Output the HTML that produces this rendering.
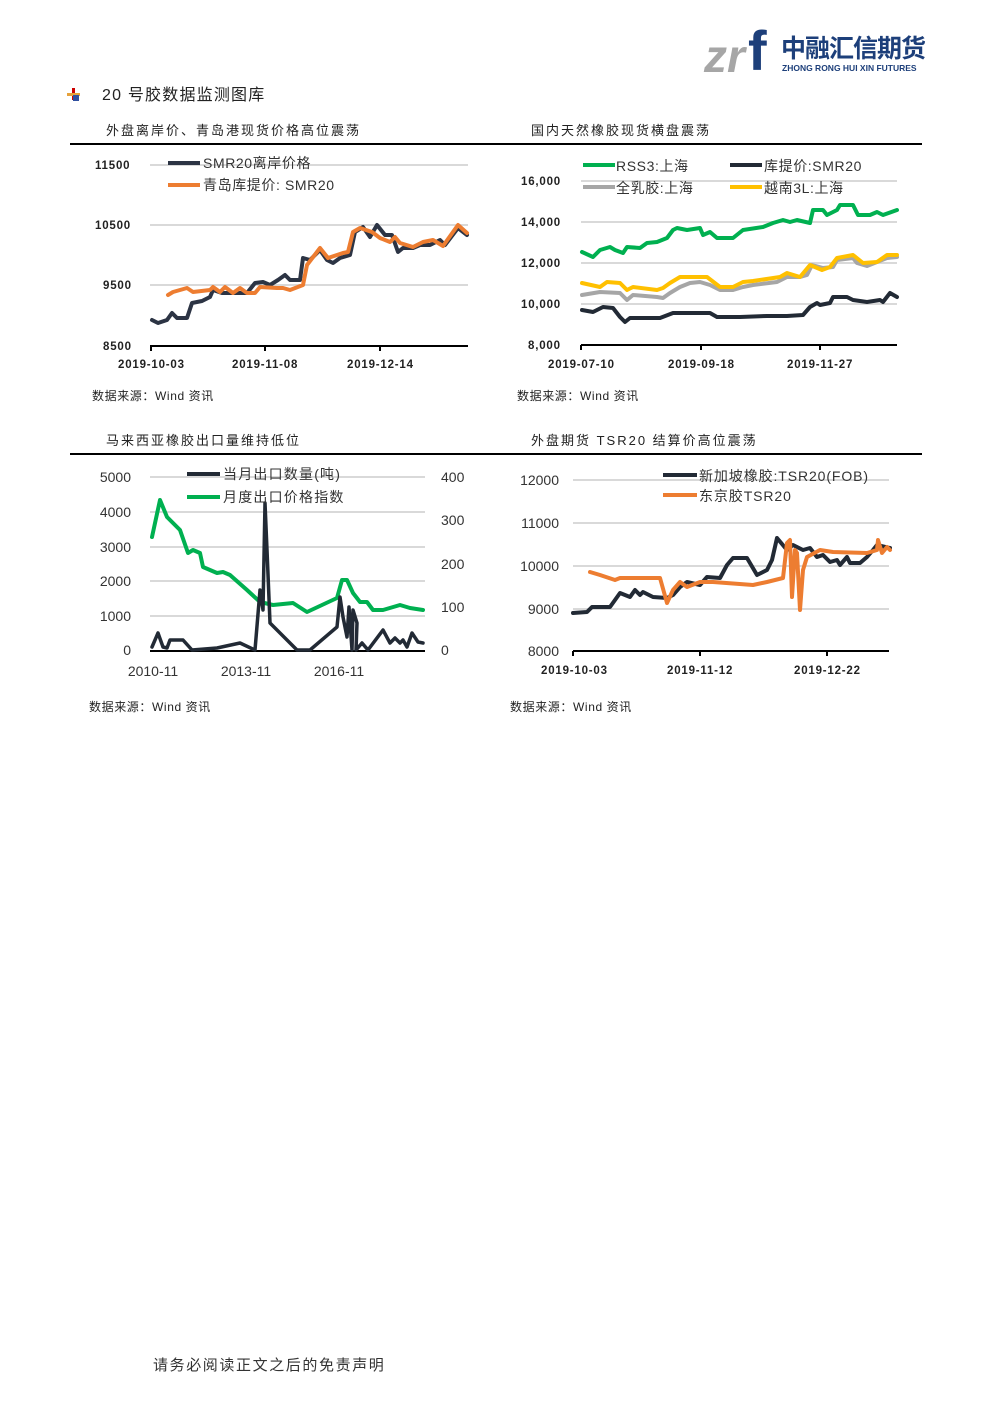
<!DOCTYPE html>
<html><head><meta charset="utf-8"><style>
body{margin:0;background:#fff}
svg{display:block}
text{font-family:"Liberation Sans","Noto Sans CJK SC",sans-serif;fill:#222}
.t{font-size:13px;letter-spacing:2px}
.l{font-size:14px;letter-spacing:0.6px;fill:#333}
.b{font-size:11.5px;font-weight:bold;letter-spacing:0.8px}
.r{font-size:14px;fill:#333}
.d{font-size:12px;letter-spacing:0.6px}
.g{stroke:#d9d9d9;stroke-width:2}
.s{fill:none;stroke-width:4;stroke-linejoin:round;stroke-linecap:round}
</style></head><body>
<svg width="992" height="1403" viewBox="0 0 992 1403" xmlns="http://www.w3.org/2000/svg">
<!-- logo -->
<text x="704" y="72" style="font-size:46px;font-weight:bold;fill:#a6a6a6;font-style:italic">zr</text>
<text x="748" y="70" style="font-size:56px;font-weight:bold;fill:#1d3f7a">f</text>
<text x="781" y="57" style="font-size:25px;font-weight:bold;fill:#1d3f7a;letter-spacing:-1px">中融汇信期货</text>
<text x="782" y="71" style="font-size:8.5px;font-weight:bold;fill:#1d3f7a">ZHONG RONG HUI XIN FUTURES</text>
<!-- header -->
<rect x="72" y="88" width="3" height="12" fill="#c00"/><rect x="67" y="93" width="13" height="3" fill="#e6a23c"/><rect x="73" y="95" width="6" height="6" fill="#3050a0"/>
<text x="102" y="100" style="font-size:16px;letter-spacing:1.2px">20 号胶数据监测图库</text>
<text x="106" y="135" class="t">外盘离岸价、青岛港现货价格高位震荡</text>
<text x="531" y="135" class="t">国内天然橡胶现货横盘震荡</text>
<rect x="70" y="143" width="852" height="2" fill="#000"/>
<text x="106" y="445" class="t">马来西亚橡胶出口量维持低位</text>
<text x="531" y="445" class="t">外盘期货 TSR20 结算价高位震荡</text>
<rect x="70" y="453" width="852" height="2" fill="#000"/>

<!-- chart1 -->
<line class="g" x1="150" x2="468" y1="165" y2="165"/><line class="g" x1="150" x2="468" y1="225" y2="225"/><line class="g" x1="150" x2="468" y1="285" y2="285"/>
<line x1="150" x2="468" y1="346" y2="346" stroke="#000" stroke-width="2"/>
<line x1="151" x2="151" y1="346" y2="351" stroke="#000" stroke-width="2"/><line x1="265" x2="265" y1="346" y2="351" stroke="#000" stroke-width="2"/><line x1="380" x2="380" y1="346" y2="351" stroke="#000" stroke-width="2"/>
<text x="95" y="169" class="b">11500</text><text x="95" y="229" class="b">10500</text><text x="103" y="289" class="b">9500</text><text x="103" y="350" class="b">8500</text>
<text x="118" y="368" class="b">2019-10-03</text><text x="232" y="368" class="b">2019-11-08</text><text x="347" y="368" class="b">2019-12-14</text>
<polyline class="s" stroke="#2c3444" points="152,320 158,323 167,320 172,313 177,318 187,318 192,303 202,301 210,297 213,290 222,293 237,293 247,293 255,283 263,282 270,285 278,280 285,275 290,280 300,280 303,258 310,260 320,250 327,260 333,263 340,258 350,255 355,232 363,227 370,237 377,225 385,235 392,235 398,252 403,248 413,248 420,245 430,245 440,240 445,245 458,228 467,235"/>
<polyline class="s" stroke="#ed7d31" points="168,295 173,292 187,288 193,292 210,290 213,287 220,292 225,287 233,293 240,288 247,293 255,293 260,287 277,288 283,288 290,290 303,285 307,265 320,248 328,258 343,253 348,252 353,232 360,228 372,232 380,238 390,242 395,237 400,243 413,247 423,242 433,240 443,246 458,225 467,233"/>
<line x1="168" x2="200" y1="163" y2="163" stroke="#2c3444" stroke-width="4"/><text x="203" y="168" class="l">SMR20离岸价格</text>
<line x1="168" x2="200" y1="185" y2="185" stroke="#ed7d31" stroke-width="4"/><text x="203" y="190" class="l">青岛库提价: SMR20</text>
<text x="92" y="400" class="d">数据来源：Wind 资讯</text>

<!-- chart2 -->
<line class="g" x1="581" x2="897" y1="181" y2="181"/><line class="g" x1="581" x2="897" y1="222" y2="222"/><line class="g" x1="581" x2="897" y1="263" y2="263"/><line class="g" x1="581" x2="897" y1="304" y2="304"/>
<line x1="581" x2="897" y1="345" y2="345" stroke="#000" stroke-width="2"/>
<line x1="581" x2="581" y1="345" y2="350" stroke="#000" stroke-width="2"/><line x1="701" x2="701" y1="345" y2="350" stroke="#000" stroke-width="2"/><line x1="820" x2="820" y1="345" y2="350" stroke="#000" stroke-width="2"/>
<text x="521" y="185" class="b">16,000</text><text x="521" y="226" class="b">14,000</text><text x="521" y="267" class="b">12,000</text><text x="521" y="308" class="b">10,000</text><text x="528" y="349" class="b">8,000</text>
<text x="548" y="368" class="b">2019-07-10</text><text x="668" y="368" class="b">2019-09-18</text><text x="787" y="368" class="b">2019-11-27</text>
<polyline class="s" stroke="#a6a6a6" points="582,295 600,292 620,293 627,300 633,295 657,297 663,298 670,293 680,287 690,283 700,282 710,285 720,290 733,290 743,287 753,285 777,282 787,277 800,277 807,275 812,265 823,268 833,267 837,260 853,258 857,263 867,266 877,262 887,258 897,257"/>
<polyline class="s" stroke="#ffc000" points="582,283 600,287 607,282 620,283 627,290 633,287 657,290 663,288 670,283 680,277 690,277 707,277 720,287 733,287 743,282 753,281 780,277 787,273 800,277 810,265 822,270 830,267 837,258 853,255 863,263 877,262 887,255 897,255"/>
<polyline class="s" stroke="#00b050" points="582,252 593,257 600,250 610,247 615,250 623,253 627,247 640,248 647,243 657,242 667,238 673,230 677,228 687,230 700,228 703,235 710,232 717,238 733,238 743,230 763,227 773,223 783,220 790,222 797,220 810,223 813,210 823,210 827,215 837,210 840,205 853,205 858,215 870,215 877,212 883,215 897,210"/>
<polyline class="s" stroke="#222a35" points="582,310 593,312 603,307 613,308 620,317 625,322 630,318 660,318 673,313 687,313 700,313 710,313 717,317 740,317 767,316 787,316 803,315 810,307 817,303 820,305 830,303 833,297 847,297 853,300 867,302 880,300 883,302 890,293 897,297"/>
<line x1="583" x2="615" y1="165" y2="165" stroke="#00b050" stroke-width="4"/><text x="616" y="171" class="l">RSS3:上海</text>
<line x1="730" x2="762" y1="165" y2="165" stroke="#222a35" stroke-width="4"/><text x="764" y="171" class="l">库提价:SMR20</text>
<line x1="583" x2="615" y1="187" y2="187" stroke="#a6a6a6" stroke-width="4"/><text x="616" y="193" class="l">全乳胶:上海</text>
<line x1="730" x2="762" y1="187" y2="187" stroke="#ffc000" stroke-width="4"/><text x="764" y="193" class="l">越南3L:上海</text>
<text x="517" y="400" class="d">数据来源：Wind 资讯</text>

<!-- chart3 -->
<line class="g" x1="150" x2="425" y1="477" y2="477"/><line class="g" x1="150" x2="425" y1="512" y2="512"/><line class="g" x1="150" x2="425" y1="547" y2="547"/><line class="g" x1="150" x2="425" y1="581" y2="581"/><line class="g" x1="150" x2="425" y1="616" y2="616"/>
<line x1="150" x2="425" y1="651" y2="651" stroke="#000" stroke-width="2"/>
<text x="131" y="482" class="r" text-anchor="end">5000</text><text x="131" y="517" class="r" text-anchor="end">4000</text><text x="131" y="552" class="r" text-anchor="end">3000</text><text x="131" y="586" class="r" text-anchor="end">2000</text><text x="131" y="621" class="r" text-anchor="end">1000</text><text x="131" y="655" class="r" text-anchor="end">0</text>
<text x="441" y="482" class="r">400</text><text x="441" y="525" class="r">300</text><text x="441" y="569" class="r">200</text><text x="441" y="612" class="r">100</text><text x="441" y="655" class="r">0</text>
<text x="153" y="676" class="r" text-anchor="middle">2010-11</text><text x="246" y="676" class="r" text-anchor="middle">2013-11</text><text x="339" y="676" class="r" text-anchor="middle">2016-11</text>
<polyline class="s" stroke="#00b050" points="152,537 160,500 167,517 180,530 188,553 193,550 200,553 203,567 217,573 223,572 230,575 247,590 260,602 273,605 293,603 307,612 337,598 342,580 347,580 353,593 360,602 367,602 373,610 383,610 400,605 410,608 423,610"/>
<polyline class="s" stroke="#222a35" style="stroke-width:3.5" points="152,647 158,633 163,647 167,648 170,640 183,640 192,650 217,648 240,643 255,650 260,590 263,610 265,503 267,550 270,623 297,650 310,650 337,627 340,597 343,617 347,637 349,607 352,650 353,610 357,623 356,650 362,643 368,650 383,630 390,643 395,638 400,643 403,640 407,647 412,633 418,642 423,643"/>
<line x1="187" x2="220" y1="474" y2="474" stroke="#222a35" stroke-width="4"/><text x="223" y="479" class="l" style="letter-spacing:1.2px">当月出口数量(吨)</text>
<line x1="187" x2="220" y1="497" y2="497" stroke="#00b050" stroke-width="4"/><text x="223" y="502" class="l" style="letter-spacing:1.2px">月度出口价格指数</text>
<text x="89" y="711" class="d">数据来源：Wind 资讯</text>

<!-- chart4 -->
<line class="g" x1="573" x2="889" y1="480" y2="480"/><line class="g" x1="573" x2="889" y1="523" y2="523"/><line class="g" x1="573" x2="889" y1="566" y2="566"/><line class="g" x1="573" x2="889" y1="609" y2="609"/>
<line x1="573" x2="889" y1="651" y2="651" stroke="#000" stroke-width="2"/>
<line x1="573" x2="573" y1="651" y2="656" stroke="#000" stroke-width="2"/><line x1="700" x2="700" y1="651" y2="656" stroke="#000" stroke-width="2"/><line x1="827" x2="827" y1="651" y2="656" stroke="#000" stroke-width="2"/>
<text x="559" y="485" class="r" text-anchor="end">12000</text><text x="559" y="528" class="r" text-anchor="end">11000</text><text x="559" y="571" class="r" text-anchor="end">10000</text><text x="559" y="614" class="r" text-anchor="end">9000</text><text x="559" y="656" class="r" text-anchor="end">8000</text>
<text x="541" y="674" class="b">2019-10-03</text><text x="667" y="674" class="b">2019-11-12</text><text x="794" y="674" class="b">2019-12-22</text>
<polyline class="s" stroke="#222a35" points="573,613 587,612 592,607 610,607 615,600 620,593 630,597 635,590 640,595 643,592 653,597 667,598 673,595 680,587 687,582 700,585 707,577 720,578 727,565 733,558 747,558 757,575 767,570 772,560 777,538 787,550 793,545 803,550 810,548 817,557 823,555 830,562 837,560 840,565 847,557 850,563 860,563 867,557 873,550 877,545 890,548"/>
<polyline class="s" stroke="#ed7d31" points="590,572 600,575 615,580 620,578 660,578 667,603 673,590 680,582 687,587 700,582 713,582 753,585 767,582 783,578 787,543 790,540 792,597 795,550 797,553 800,610 803,570 807,557 820,550 833,552 867,553 877,550 878,540 882,553 887,547 890,550"/>
<line x1="663" x2="697" y1="475" y2="475" stroke="#222a35" stroke-width="4"/><text x="699" y="481" class="l" style="letter-spacing:0.9px">新加坡橡胶:TSR20(FOB)</text>
<line x1="663" x2="697" y1="495" y2="495" stroke="#ed7d31" stroke-width="4"/><text x="699" y="501" class="l" style="letter-spacing:0.9px">东京胶TSR20</text>
<text x="510" y="711" class="d">数据来源：Wind 资讯</text>

<text x="153" y="1370" style="font-size:15px;fill:#333;letter-spacing:1.6px">请务必阅读正文之后的免责声明</text>
</svg>
</body></html>
